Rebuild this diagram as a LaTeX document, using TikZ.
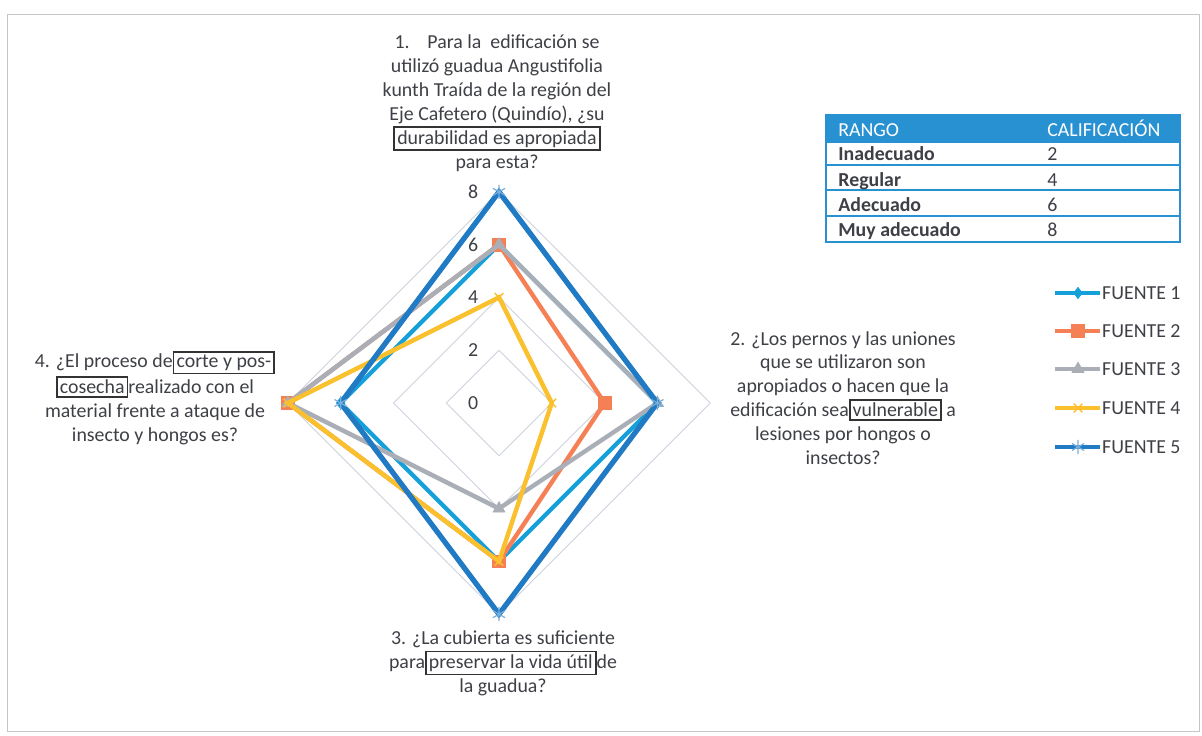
\documentclass[tikz,border=0pt]{standalone}
\usepackage{fontspec}
\setmainfont{Carlito}
\usepackage{xcolor}
\usepackage{tikz}
\usetikzlibrary{plotmarks}

\definecolor{txt}{RGB}{62,64,70}
\definecolor{gridc}{RGB}{205,210,222}
\definecolor{fuenteA}{RGB}{22,160,218}
\definecolor{fuenteB}{RGB}{245,128,85}
\definecolor{fuenteC}{RGB}{170,174,182}
\definecolor{fuenteD}{RGB}{250,192,45}
\definecolor{fuenteE}{RGB}{32,122,196}
\definecolor{tablac}{RGB}{40,145,210}

\newcommand{\caja}[1]{{\setlength{\fboxsep}{1.2pt}\setlength{\fboxrule}{1pt}\fcolorbox{black!80}{white}{#1}}}

\begin{document}
\begin{tikzpicture}[x=0.02cm, y=-0.02cm,
    etiqueta/.style={align=center, text=txt, font=\fontsize{11.3}{13.6}\selectfont, inner sep=0pt},
    anillo/.style={draw=gridc, line width=0.5pt},
    serie/.style={line width=2.5pt, line join=miter}]
    \useasboundingbox (0,0) rectangle (1202,736);
    % Page frame
    \draw[gray!45, line width=0.5pt] (7,14) rectangle (1199,731);

    % Questions
    \node[etiqueta] (preg1) at (497,103) {1.\hspace{0.9em}Para la\ \ edificación se\\
        utilizó guadua Angustifolia\\ kunth Traída de la región del\\
        Eje Cafetero (Quindío), ¿su\\ \caja{durabilidad es apropiada}\\ para esta?};
    \node[etiqueta] (preg2) at (843,398) {2. ¿Los pernos y las uniones\\ que se utilizaron son\\
        apropiados o hacen que la\\ edificación sea\caja{vulnerable} a\\
        lesiones por hongos o\\ insectos?};
    \node[etiqueta] (preg3) at (503,663) {3. ¿La cubierta es suficiente\\
        para\caja{preservar la vida útil}de\\ la guadua?};
    \node[etiqueta] (preg4) at (155,398) {4. ¿El proceso de\caja{corte y pos-}\\
        \caja{cosecha}realizado con el\\ material frente a ataque de\\ insecto y hongos es?};

    % Radar chart
    \begin{scope}[shift={(499,403)}, x=0.528cm, y=0.528cm]
        \foreach \r in {2,4,6,8}
            \draw[anillo] (90:\r) -- (0:\r) -- (-90:\r) -- (180:\r) -- cycle;
        \foreach \r in {0,2,4,6,8}
            \node[etiqueta] (eje\r) at (-0.98,\r) {\r};
        % FUENTE 1
        \draw[serie, fuenteA] (90:6) -- (0:6) -- (-90:6) -- (180:6) -- cycle;
        \draw[fuenteA] plot[only marks, mark=diamond*, mark size=3.2pt] coordinates {(90:6) (0:6) (-90:6) (180:6)};
        % FUENTE 2
        \draw[serie, fuenteB] (90:6) -- (0:4) -- (-90:6) -- (180:8) -- cycle;
        \draw[fuenteB] plot[only marks, mark=square*, mark size=3.6pt] coordinates {(90:6) (0:4) (-90:6) (180:8)};
        % FUENTE 3
        \draw[serie, fuenteC] (90:6) -- (0:6) -- (-90:4) -- (180:8) -- cycle;
        \draw[fuenteC] plot[only marks, mark=triangle*, mark size=3.9pt] coordinates {(90:6) (0:6) (-90:4) (180:8)};
        % FUENTE 4
        \draw[serie, fuenteD] (90:4) -- (0:2) -- (-90:6) -- (180:8) -- cycle;
        \draw[fuenteD, line width=0.8pt] plot[only marks, mark=x, mark size=3.5pt] coordinates {(90:4) (0:2) (-90:6) (180:8)};
        % FUENTE 5
        \draw[serie, fuenteE, line width=3pt] (90:8) -- (0:6) -- (-90:8) -- (180:6) -- cycle;
        \draw[fuenteE!60, line width=0.7pt] plot[only marks, mark=asterisk, mark size=4pt] coordinates {(90:8) (0:6) (-90:8) (180:6)};
    \end{scope}

    % Table
    \fill[tablac] (826,115) rectangle (1180,143);
    \draw[tablac, line width=0.8pt] (826,115) rectangle (1180,242);
    \foreach \y in {165,190,216}
        \draw[tablac, line width=0.6pt] (826,\y) -- (1180,\y);
    \node[etiqueta, text=white, anchor=base west] (rango) at (838,137) {RANGO};
    \node[etiqueta, text=white, anchor=base west] (calif) at (1047,137) {CALIFICACIÓN};
    \foreach \y/\r/\v in {161/Inadecuado/2, 187/Regular/4, 212/Adecuado/6, 237/Muy adecuado/8} {
        \node[etiqueta, anchor=base west, font=\fontsize{11.3}{13.6}\selectfont\bfseries] (fila\v) at (838,\y) {\r};
        \node[etiqueta, anchor=base west] (valor\v) at (1047,\y) {\v};
    }

    % Legend
    \draw[serie, fuenteA] (1055,293) -- (1100,293) node[etiqueta, right] (ley1) {FUENTE 1};
    \draw[fuenteA] plot[only marks, mark=diamond*, mark size=3.2pt] coordinates {(1078,293)};
    \draw[serie, fuenteB] (1055,331) -- (1100,331) node[etiqueta, right] (ley2) {FUENTE 2};
    \draw[fuenteB] plot[only marks, mark=square*, mark size=3.6pt] coordinates {(1078,331)};
    \draw[serie, fuenteC] (1055,369) -- (1100,369) node[etiqueta, right] (ley3) {FUENTE 3};
    \draw[fuenteC] plot[only marks, mark=triangle*, mark size=3.9pt] coordinates {(1078,369)};
    \draw[serie, fuenteD] (1055,408) -- (1100,408) node[etiqueta, right] (ley4) {FUENTE 4};
    \draw[fuenteD, line width=0.8pt] plot[only marks, mark=x, mark size=3.5pt] coordinates {(1078,408)};
    \draw[serie, fuenteE] (1055,447) -- (1100,447) node[etiqueta, right] (ley5) {FUENTE 5};
    \draw[fuenteE!60, line width=0.7pt] plot[only marks, mark=asterisk, mark size=4pt] coordinates {(1078,447)};
\end{tikzpicture}
\end{document}
